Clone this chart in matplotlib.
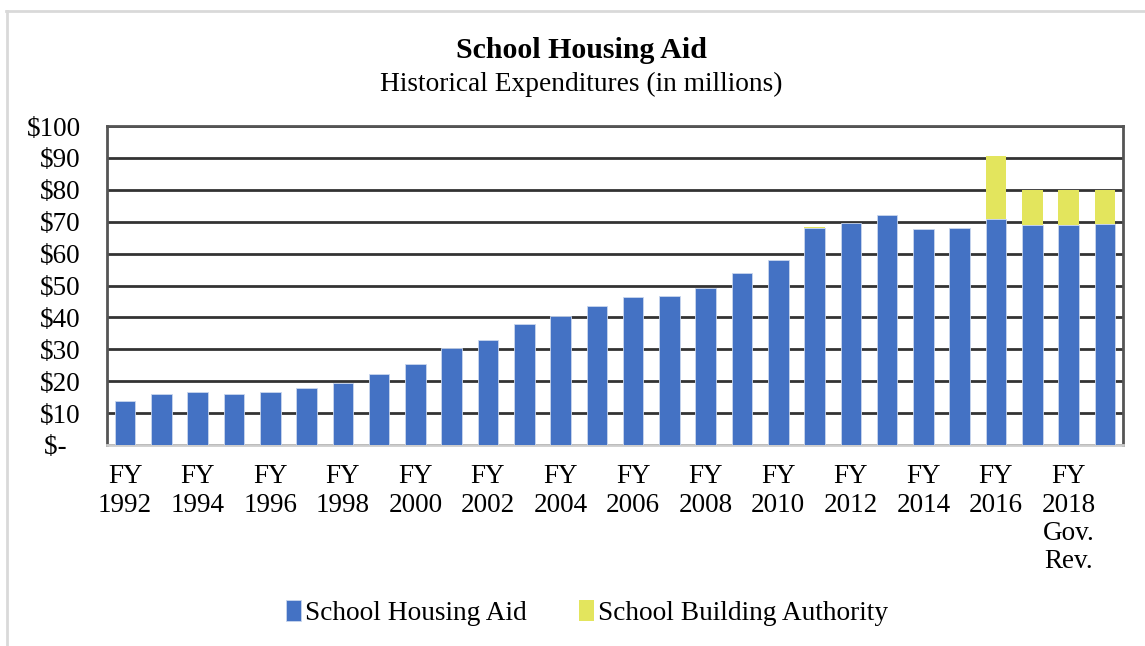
import numpy as np
import matplotlib.pyplot as plt
from matplotlib.lines import Line2D

plt.rcParams['font.family'] = ['Liberation Serif', 'DejaVu Serif']

years = list(range(1992, 2020))
labels = []
for i, y in enumerate(years):
    if i == 26:
        labels.append("FY\n2018\nGov.\nRev.")
    elif i % 2 == 0:
        labels.append("FY\n%d" % y)
    else:
        labels.append("")

housing_aid = [13.8, 15.9, 16.7, 16.0, 16.7, 18.0, 19.5, 22.4, 25.3, 30.5,
               32.9, 38.0, 40.5, 43.7, 46.3, 46.6, 49.3, 53.9, 58.1, 68.0,
               69.6, 72.0, 67.6, 68.1, 70.8, 68.9, 69.0, 69.4]
building_auth = [0, 0, 0, 0, 0, 0, 0, 0, 0, 0,
                 0, 0, 0, 0, 0, 0, 0, 0, 0, 0.3,
                 0, 0, 0, 0, 19.9, 11.1, 11.0, 10.6]

blue = "#4472C4"
yellow = "#E3E55D"

fig = plt.figure(figsize=(11.45, 6.46), dpi=100)
ax = fig.add_axes([107/1145, 1 - 445/646, (1123-107)/1145, (445-126)/646])

x = np.arange(len(years))
ax.bar(x, housing_aid, width=0.57, color=blue, edgecolor="#c9d6ee", linewidth=0.6,
       label="School Housing Aid", zorder=3)
ax.bar(x, building_auth, width=0.57, bottom=housing_aid, color=yellow,
       label="School Building Authority", zorder=3)

ax.set_xlim(-0.5, len(years) - 0.5)
ax.set_ylim(0, 100)
ax.set_yticks(range(0, 101, 10))
# accounting-style zero: dash sits left of the digit column
ax.set_yticklabels(["$-  "] + ["$%d" % v for v in range(10, 101, 10)], fontsize=19.5)
ax.yaxis.grid(True, color="#333333", linewidth=2, zorder=0)
ax.set_xticks(x)
ax.set_xticklabels(labels, fontsize=19.5, va="top", linespacing=1.17)
ax.tick_params(axis="both", length=0)
ax.tick_params(axis="x", pad=14)
ax.tick_params(axis="y", pad=19)

for s in ["left", "right", "top"]:
    ax.spines[s].set_color("#555555")
    ax.spines[s].set_linewidth(2)
ax.spines["bottom"].set_color("#cccccc")
ax.spines["bottom"].set_linewidth(2)

fig.text(0.508, 1 - 50/646, "School Housing Aid", ha="center", va="center",
         fontsize=21.5, fontweight="bold")
fig.text(0.508, 1 - 84/646, "Historical Expenditures (in millions)", ha="center",
         va="center", fontsize=19.7)

fig.legend(loc="center", bbox_to_anchor=(0.513, 1 - 613/646), ncol=2, frameon=False,
           fontsize=19.7, handlelength=0.55, handleheight=0.8, handletextpad=0.15,
           columnspacing=1.9)

# light outer frame: top and left edges only
fig.add_artist(Line2D([6/1145, 1], [1 - 11/646, 1 - 11/646], color="#d9d9d9", linewidth=2))
fig.add_artist(Line2D([7/1145, 7/1145], [0, 1 - 11/646], color="#d9d9d9", linewidth=2))

fig.savefig("out.png", dpi=100)
